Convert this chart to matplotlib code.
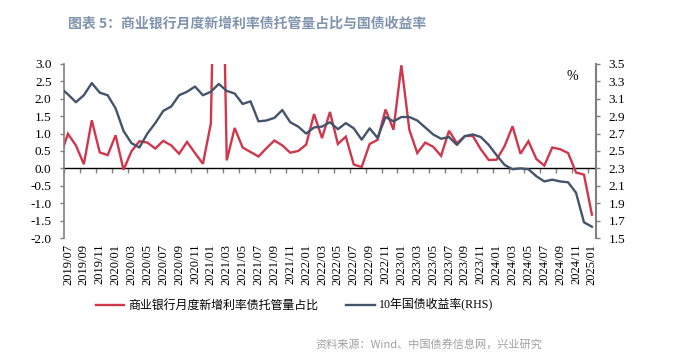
import numpy as np
import pandas as pd
import matplotlib
matplotlib.use('Agg')
import matplotlib.pyplot as plt

plt.rcParams['font.family'] = ['Liberation Serif', 'Noto Sans CJK SC', 'DejaVu Sans']

# monthly categories, 2019/06 sits just left of the axis and is clipped
months = pd.date_range('2019-06-01', '2025-01-01', freq='MS').strftime('%Y/%m').tolist()

share = [0.33,
         0.99, 0.66, 0.12, 1.38, 0.46, 0.38, 0.95, -0.04, 0.49, 0.78, 0.74, 0.57,
         0.79, 0.66, 0.42, 0.76, 0.44, 0.13, 1.29, 12.5, 0.23, 1.16, 0.60, 0.47,
         0.34, 0.58, 0.80, 0.66, 0.45, 0.50, 0.68, 1.56, 0.87, 1.62, 0.70, 0.91,
         0.11, 0.04, 0.70, 0.82, 1.69, 1.11, 2.96, 1.11, 0.44, 0.74, 0.62, 0.36,
         1.08, 0.72, 0.93, 0.93, 0.55, 0.24, 0.25, 0.64, 1.21, 0.42, 0.78, 0.27,
         0.08, 0.60, 0.55, 0.44, -0.12, -0.18, -1.33]

cgb10y = [3.23,
          3.15, 3.06, 3.14, 3.28, 3.17, 3.14, 2.99, 2.73, 2.59, 2.54, 2.70, 2.82,
          2.96, 3.01, 3.14, 3.18, 3.24, 3.14, 3.18, 3.27, 3.19, 3.16, 3.04, 3.07,
          2.84, 2.85, 2.88, 2.97, 2.83, 2.78, 2.70, 2.77, 2.78, 2.83, 2.75, 2.82,
          2.76, 2.63, 2.76, 2.65, 2.89, 2.84, 2.89, 2.89, 2.85, 2.77, 2.69, 2.64,
          2.66, 2.57, 2.67, 2.69, 2.66, 2.57, 2.45, 2.34, 2.29, 2.30, 2.29, 2.21,
          2.15, 2.17, 2.15, 2.14, 2.02, 1.68, 1.63]

red = '#d0374d'
navy = '#44546a'
grey = '#808080'

x = np.arange(len(months))

fig = plt.figure(figsize=(6.75, 3.59), dpi=100)
ax = fig.add_axes([0.0948, 0.337, 0.788, 0.485])
ax2 = ax.twinx()

l1, = ax.plot(x, share, color=red, lw=1.7, solid_joinstyle='miter')
l2, = ax2.plot(x, cgb10y, color=navy, lw=1.7)

ax.set_xlim(0.5, len(months) - 0.5)
ax.set_ylim(-2, 3)
ax2.set_ylim(1.5, 3.5)
ax.set_yticks(np.arange(-2, 3.01, 0.5))
ax2.set_yticks(np.arange(1.5, 3.51, 0.2))
ax.yaxis.set_major_formatter(matplotlib.ticker.FormatStrFormatter('%.1f'))
ax2.yaxis.set_major_formatter(matplotlib.ticker.FormatStrFormatter('%.1f'))

for a in (ax, ax2):
    for s in ('top', 'bottom'):
        a.spines[s].set_visible(False)
ax.spines['right'].set_visible(False)
ax2.spines['left'].set_visible(False)
ax.spines['left'].set_color(grey)
ax2.spines['right'].set_color(grey)
ax.spines['left'].set_linewidth(1.2)
ax2.spines['right'].set_linewidth(1.5)

ax.tick_params(axis='y', direction='out', length=3, width=1, color=grey,
               pad=6, labelsize=9.5)
ax2.tick_params(axis='y', direction='out', length=3, width=1, color=grey,
                pad=6, labelsize=9.5)

# category labels at the bottom, every other month
ax.set_xticks(x[1::2])
ax.set_xticklabels(months[1::2], rotation=90, fontsize=9)
ax.tick_params(axis='x', length=0, pad=4)

# zero line with tick marks between categories
zero = ax.secondary_xaxis(0.4)
zero.set_xticks(np.arange(0.5, len(months) - 1, 2))
zero.set_xticklabels([])
zero.spines['bottom'].set_color('black')
zero.spines['bottom'].set_linewidth(1)
zero.tick_params(axis='x', direction='out', length=3.5, width=1, color=grey)

ax2.text(0.955, 0.93, '%', transform=ax2.transAxes, fontsize=10,
         ha='center', va='center')

fig.legend([l1, l2], ['商业银行月度新增利率债托管量占比', '10年国债收益率(RHS)'],
           loc='center', bbox_to_anchor=(0.436, 0.150), ncol=2, frameon=False,
           handlelength=2.4, handletextpad=0.3, columnspacing=2.4,
           prop={'family': ['Liberation Serif', 'Noto Sans CJK SC'], 'size': 8.6})

fig.text(0.101, 0.935, '图表 5：商业银行月度新增利率债托管量占比与国债收益率',
         family=['Noto Sans CJK SC'], fontsize=10, fontweight='bold',
         color='#8094ae', ha='left', va='center')

fig.text(0.803, 0.042, '资料来源：Wind、中国债券信息网，兴业研究',
         family=['Noto Sans CJK SC'], fontsize=8.0, color='#a0a0a0',
         ha='right', va='center')

fig.savefig('out.png', dpi=100)
